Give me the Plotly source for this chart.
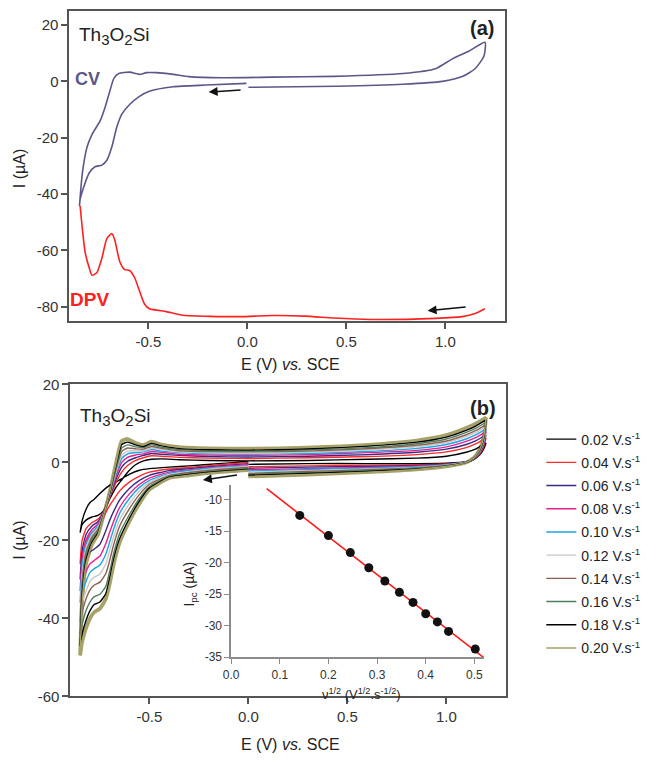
import numpy as np
import plotly.graph_objects as go

# ---------------- Panel (a) data ----------------
cv_a_E = [-0.005, -0.21, -0.375, -0.495, -0.545, -0.595, -0.635, -0.66, -0.685, -0.71, -0.735, -0.77, -0.8, -0.825, -0.845, -0.848,
          -0.834, -0.81, -0.784, -0.744, -0.72, -0.695, -0.675, -0.65, -0.595, -0.545, -0.51, -0.46, -0.375, -0.295, -0.126, 0.123, 0.437, 0.786, 0.95, 1.035, 1.12, 1.2,
          1.195, 1.15, 1.085, 0.985, 0.786, 0.452, 0.005]
cv_a_I = [-0.7, -1.3, -1.9, -3.5, -5.3, -8.2, -11.7, -16.3, -23.3, -28.0, -29.7, -30.3, -32.6, -37.1, -41.9, -44.0,
          -32.7, -23.3, -18.7, -14.0, -9.4, -3.5, 1.0, 2.8, 3.3, 2.5, 3.1, 3.1, 2.5, 1.7, 1.3, 1.5, 1.8, 2.8, 4.5, 8.0, 10.8, 13.9,
          9.0, 4.5, 1.7, 0.0, -1.0, -1.7, -2.1]

dpv_E = [-0.845, -0.834, -0.82, -0.8, -0.785, -0.76, -0.735, -0.71, -0.685, -0.67, -0.645, -0.62, -0.595, -0.57, -0.545, -0.52,
         -0.495, -0.41, -0.325, -0.045, 0.123, 0.29, 0.437, 0.62, 0.95, 1.085, 1.15, 1.2]
dpv_I = [-44.2, -52.2, -60.5, -66.0, -68.8, -67.8, -62.7, -55.8, -54.0, -56.3, -63.9, -66.8, -67.1, -69.6, -74.4, -79.0,
         -80.7, -81.7, -83.0, -83.5, -83.1, -83.3, -84.0, -84.5, -84.1, -83.5, -82.4, -80.7]

# ---------------- Panel (b) data ----------------
scan_labels = ["0.02", "0.04", "0.06", "0.08", "0.10", "0.12", "0.14", "0.16", "0.18", "0.20"]

E_seg1 = [0.0, -0.15, -0.3, -0.4, -0.5, -0.55, -0.6, -0.65, -0.68, -0.7, -0.72, -0.75, -0.78, -0.8, -0.82, -0.84, -0.85]
E_seg2 = [-0.85, -0.84, -0.82, -0.79, -0.76, -0.73, -0.7, -0.67, -0.64, -0.61, -0.57, -0.53, -0.49, -0.44, -0.35, -0.2,
          0.0, 0.3, 0.6, 0.85, 1.0, 1.1, 1.15, 1.2]
E_seg3 = [1.2, 1.19, 1.17, 1.14, 1.1, 1.0, 0.85, 0.6, 0.3, 0.0]

I_seg1 = [
    [0.2, -0.3, -0.9, -1.2, -1.6, -2.0, -3.0, -4.5, -5.3, -5.8, -6.6, -8.0, -9.5, -10.3, -12.0, -15.0, -18.0],
    [0.0, -0.6, -1.3, -1.7, -2.5, -3.5, -5.0, -7.3, -9.5, -11.0, -12.8, -16.0, -17.8, -18.5, -20.5, -23.5, -26.0],
    [-0.3, -0.9, -1.6, -2.1, -3.3, -4.6, -6.6, -9.6, -12.5, -14.8, -17.5, -21.0, -22.3, -23.0, -25.0, -28.0, -30.0],
    [-0.6, -1.1, -1.9, -2.5, -4.0, -5.6, -8.0, -11.5, -15.0, -17.8, -20.8, -24.0, -25.2, -26.0, -28.0, -31.0, -33.0],
    [-0.9, -1.3, -2.1, -2.8, -4.6, -6.4, -9.2, -13.0, -17.0, -20.3, -23.5, -26.3, -27.3, -28.2, -30.5, -33.5, -36.0],
    [-1.1, -1.5, -2.4, -3.1, -5.1, -7.3, -10.5, -14.7, -19.0, -22.5, -26.0, -28.6, -29.5, -30.5, -33.0, -36.0, -38.5],
    [-1.3, -1.8, -2.6, -3.4, -5.6, -8.2, -11.8, -16.3, -21.0, -25.0, -28.5, -30.7, -31.5, -32.7, -35.0, -38.5, -41.0],
    [-1.6, -2.1, -2.9, -3.6, -6.2, -9.2, -13.3, -18.2, -23.3, -27.8, -31.8, -33.8, -34.5, -35.8, -38.0, -41.5, -44.0],
    [-1.8, -2.3, -3.1, -3.8, -6.6, -9.9, -14.3, -19.6, -24.8, -29.6, -33.6, -35.8, -36.5, -38.0, -40.5, -44.0, -47.0],
    [-2.0, -2.5, -3.3, -4.0, -7.0, -10.5, -15.0, -20.5, -26.0, -31.0, -35.0, -37.5, -38.5, -40.0, -42.5, -46.0, -49.5],
]
I_seg2 = [
    [-18.0, -16.0, -14.8, -14.0, -13.6, -12.3, -9.3, -6.5, -4.5, -2.5, -0.6, 0.4, 0.8, 0.9, 0.7, 0.5, 0.4, 0.5, 0.8, 1.1, 1.6, 2.6, 3.5, 5.0],
    [-26.0, -20.0, -17.0, -15.4, -14.6, -12.5, -8.9, -5.3, -2.5, -0.8, 0.5, 1.2, 1.7, 1.6, 1.3, 1.1, 1.0, 1.2, 1.5, 2.0, 2.7, 3.8, 4.8, 6.3],
    [-30.0, -22.6, -18.5, -16.3, -15.2, -12.6, -8.7, -4.5, -1.2, 0.3, 1.2, 1.8, 2.3, 2.1, 1.8, 1.5, 1.4, 1.6, 2.0, 2.6, 3.4, 4.6, 5.6, 7.1],
    [-33.0, -25.0, -19.8, -17.2, -15.8, -12.8, -8.5, -3.8, 0.0, 1.3, 1.9, 2.2, 2.8, 2.6, 2.1, 1.9, 1.8, 2.0, 2.5, 3.1, 4.0, 5.4, 6.4, 7.9],
    [-36.0, -27.0, -21.0, -17.9, -16.3, -12.9, -8.3, -3.2, 1.0, 2.2, 2.5, 2.7, 3.3, 2.9, 2.5, 2.2, 2.1, 2.3, 2.8, 3.6, 4.6, 6.0, 7.1, 8.6],
    [-38.5, -28.8, -22.0, -18.5, -16.7, -12.9, -8.1, -2.7, 1.9, 2.9, 3.0, 3.0, 3.7, 3.3, 2.7, 2.5, 2.4, 2.6, 3.2, 4.0, 5.1, 6.6, 7.7, 9.2],
    [-41.0, -30.6, -23.0, -19.1, -17.2, -13.0, -8.0, -2.1, 2.8, 3.7, 3.5, 3.4, 4.1, 3.6, 3.0, 2.8, 2.7, 2.9, 3.5, 4.4, 5.5, 7.1, 8.2, 9.7],
    [-44.0, -32.4, -24.0, -19.7, -17.6, -13.1, -7.8, -1.6, 3.7, 4.5, 4.0, 3.8, 4.5, 3.9, 3.3, 3.0, 2.9, 3.2, 3.8, 4.8, 6.0, 7.7, 8.8, 10.3],
    [-47.0, -34.2, -25.0, -20.4, -18.1, -13.2, -7.7, -1.0, 4.6, 5.2, 4.5, 4.1, 4.9, 4.3, 3.6, 3.3, 3.2, 3.5, 4.2, 5.2, 6.5, 8.2, 9.4, 10.9],
    [-49.5, -36.0, -26.0, -21.0, -18.5, -13.3, -7.5, -0.5, 5.5, 6.0, 5.0, 4.5, 5.3, 4.6, 3.9, 3.6, 3.5, 3.8, 4.5, 5.6, 7.0, 8.8, 10.0, 11.5],
]
I_seg3 = [
    [5.0, 3.6, 2.0, 0.8, 0.1, -0.2, -0.3, -0.3, -0.3, -0.5],
    [6.3, 4.3, 2.3, 0.9, 0.1, -0.4, -0.6, -0.7, -0.9, -1.1],
    [7.1, 4.7, 2.5, 0.9, 0.1, -0.5, -0.8, -1.0, -1.2, -1.5],
    [7.9, 5.1, 2.7, 1.0, 0.1, -0.6, -1.0, -1.3, -1.6, -1.9],
    [8.6, 5.5, 2.8, 1.0, 0.1, -0.6, -1.1, -1.5, -1.8, -2.2],
    [9.2, 5.8, 3.0, 1.1, 0.0, -0.7, -1.3, -1.7, -2.1, -2.5],
    [9.7, 6.1, 3.1, 1.1, 0.0, -0.8, -1.4, -1.9, -2.3, -2.8],
    [10.3, 6.4, 3.2, 1.1, 0.0, -0.9, -1.5, -2.1, -2.6, -3.0],
    [10.9, 6.7, 3.4, 1.2, 0.0, -0.9, -1.7, -2.3, -2.8, -3.3],
    [11.5, 7.0, 3.5, 1.2, 0.0, -1.0, -1.8, -2.5, -3.1, -3.6],
]
scan_colors = ["#000000", "#ff2a2a", "#3a2a86", "#ec1c8c", "#1aa6e4", "#c8c8c8", "#8e5f50", "#4e7d5c", "#000000", "#a6a26a"]

# inset data
sqrt_v = [0.141, 0.200, 0.245, 0.283, 0.316, 0.346, 0.374, 0.400, 0.424, 0.447, 0.502]
ipc = [-12.5, -15.7, -18.4, -20.8, -22.9, -24.7, -26.3, -28.1, -29.4, -30.9, -33.7]
fit_x_ends = [0.073, 0.52]

# ---------------- tick labels ----------------
xa_ticks = [-0.5, 0.0, 0.5, 1.0]
xa_text = ["-0.5", "0.0", "0.5", "1.0"]
ya_ticks = [20, 0, -20, -40, -60, -80]
ya_text = ["20", "0", "-20", "-40", "-60", "-80"]
yb_ticks = [20, 0, -20, -40, -60]
yb_text = ["20", "0", "-20", "-40", "-60"]
xi_ticks = [0.0, 0.1, 0.2, 0.3, 0.4, 0.5]
xi_text = ["0.0", "0.1", "0.2", "0.3", "0.4", "0.5"]
yi_ticks = [-10, -15, -20, -25, -30, -35]
yi_text = ["-10", "-15", "-20", "-25", "-30", "-35"]

W, H = 646, 763
FONT = "Arial, Liberation Sans, sans-serif"

fig = go.Figure()

fig.add_trace(go.Scatter(x=cv_a_E, y=cv_a_I, mode="lines",
                         line=dict(color="#5b5888", width=1.6, shape="spline", smoothing=0.6),
                         showlegend=False, xaxis="x", yaxis="y"))
fig.add_trace(go.Scatter(x=dpv_E, y=dpv_I, mode="lines",
                         line=dict(color="#ff2020", width=1.6, shape="spline", smoothing=0.6),
                         showlegend=False, xaxis="x", yaxis="y"))

# olive halo under the fastest scan (as in the original)
fig.add_trace(go.Scatter(x=E_seg1 + E_seg2 + E_seg3, y=I_seg1[9] + I_seg2[9] + I_seg3[9], mode="lines",
                         line=dict(color="#a6a26a", width=3.8, shape="spline", smoothing=0.5),
                         showlegend=False, hoverinfo="skip", xaxis="x2", yaxis="y2"))

for k, lab in enumerate(scan_labels):
    xs = E_seg1 + E_seg2 + E_seg3
    ys = I_seg1[k] + I_seg2[k] + I_seg3[k]
    fig.add_trace(go.Scatter(x=xs, y=ys, mode="lines",
                             line=dict(color=scan_colors[k], width=1.4, shape="spline", smoothing=0.5),
                             name=f"{lab} V.s<sup>-1</sup>", legendgroup=str(k),
                             xaxis="x2", yaxis="y2"))

coef = np.polyfit(sqrt_v, ipc, 1)
fit_y = [coef[0] * x + coef[1] for x in fit_x_ends]
fig.add_trace(go.Scatter(x=fit_x_ends, y=fit_y, mode="lines", line=dict(color="#ff1a1a", width=1.6),
                         showlegend=False, xaxis="x3", yaxis="y3"))
fig.add_trace(go.Scatter(x=sqrt_v, y=ipc, mode="markers", marker=dict(color="#111111", size=9),
                         showlegend=False, xaxis="x3", yaxis="y3"))

def px_x(p):
    return p / W

def px_y(p):
    return 1 - p / H

axis_common = dict(showline=True, linecolor="#555555", linewidth=1.5, ticks="outside", ticklen=6,
                   tickwidth=1.5, tickcolor="#555555", showgrid=False, zeroline=False,
                   tickfont=dict(family=FONT, size=15, color="#333333"))
inset_common = dict(showline=True, linecolor="#8c8c8c", linewidth=1.5, ticks="outside", ticklen=5,
                    tickwidth=1.2, tickcolor="#8c8c8c", showgrid=False, zeroline=False,
                    tickfont=dict(family=FONT, size=12, color="#333333"))

fig.update_layout(
    width=W, height=H, margin=dict(l=0, r=0, t=0, b=0),
    paper_bgcolor="white", plot_bgcolor="rgba(0,0,0,0)",
    font=dict(family=FONT, color="#222222"),
    xaxis=dict(domain=[px_x(62), px_x(503)], range=[-0.9, 1.3], anchor="y", mirror=True,
               tickvals=xa_ticks, ticktext=xa_text, **axis_common),
    yaxis=dict(domain=[px_y(319), px_y(2)], range=[-85, 25], anchor="x", mirror=True,
               tickvals=ya_ticks, ticktext=ya_text, **axis_common),
    xaxis2=dict(domain=[px_x(63), px_x(504)], range=[-0.9, 1.3], anchor="y2", mirror=True,
                tickvals=xa_ticks, ticktext=xa_text, **axis_common),
    yaxis2=dict(domain=[px_y(703), px_y(384)], range=[-60, 20], anchor="x2", mirror=True,
                tickvals=yb_ticks, ticktext=yb_text, **axis_common),
    xaxis3=dict(domain=[px_x(226), px_x(482)], range=[0, 0.52], anchor="y3",
                tickvals=xi_ticks, ticktext=xi_text, ticklabelstandoff=1, **inset_common),
    yaxis3=dict(domain=[px_y(663), px_y(487)], range=[-35, -7.7], anchor="x3",
                tickvals=yi_ticks, ticktext=yi_text, **inset_common),
    legend=dict(x=px_x(540), y=px_y(424), xanchor="left", yanchor="top", bgcolor="rgba(0,0,0,0)",
                font=dict(family=FONT, size=14, color="#222222"), itemwidth=30, tracegroupgap=2),
)

ann = []
def txt(x, y, s, size, color="#222222", xanchor="left", angle=0):
    ann.append(dict(x=px_x(x), y=px_y(y), xref="paper", yref="paper", text=s, showarrow=False,
                    xanchor=xanchor, yanchor="middle", textangle=angle,
                    font=dict(family=FONT, size=size, color=color)))

sub_big = "<span style='font-size:15px'>{}</span>"
th = "Th<sub>" + sub_big.format("3") + "</sub>O<sub>" + sub_big.format("2") + "</sub>Si"
txt(70, 28, th, 19)
txt(66, 72, "<b>CV</b>", 18, "#5b5888")
txt(494, 19, "<b>(a)</b>", 20, xanchor="right")
txt(61, 297, "<b>DPV</b>", 19, "#ff2020")
txt(286, 364, "E (V) <i>vs.</i> SCE", 16, xanchor="center")
txt(12, 163, "I (µA)", 16, xanchor="center", angle=-90)

txt(71, 417, th, 19)
txt(496, 408, "<b>(b)</b>", 20, xanchor="right")
txt(286, 752, "E (V) <i>vs.</i> SCE", 16, xanchor="center")
txt(12, 543, "I (µA)", 16, xanchor="center", angle=-90)
txt(184, 588, "I<sub>pc</sub> (µA)", 14, xanchor="center", angle=-90)
txt(358, 701, "ν<sup>1/2</sup> (V<sup>1/2</sup>.s<sup>-1/2</sup>)", 13, xanchor="center")

def arrow(xr, yr, x_head, y_head, x_tail, y_tail):
    ann.append(dict(x=x_head, y=y_head, ax=x_tail, ay=y_tail, xref=xr, yref=yr, axref=xr, ayref=yr,
                    showarrow=True, arrowhead=2, arrowsize=1.2, arrowwidth=1.5, arrowcolor="#111111", text=""))

arrow("x", "y", -0.196, -3.8, -0.027, -3.0)
arrow("x", "y", 0.91, -81.4, 1.11, -80.0)
arrow("x2", "y2", -0.23, -4.5, -0.05, -3.2)

fig.update_layout(annotations=ann)
fig.write_html("out.html")
